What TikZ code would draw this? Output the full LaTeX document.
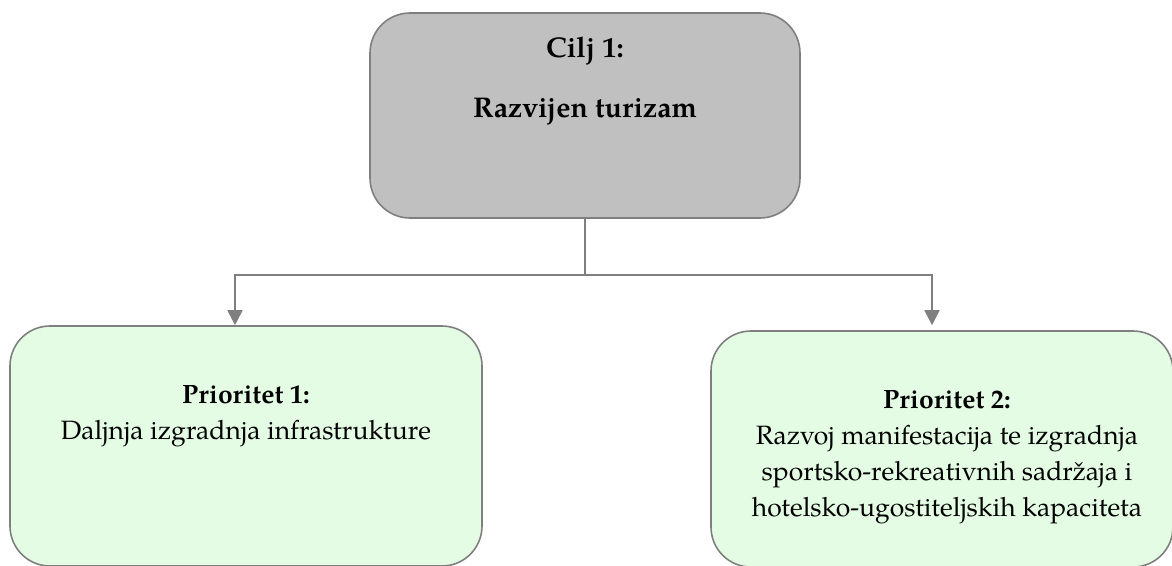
\documentclass[tikz,border=0pt]{standalone}
\usepackage{fontspec}
\setmainfont{TeX Gyre Pagella}
\usetikzlibrary{arrows.meta,calc}
\definecolor{boxline}{HTML}{7F7F7F}
\definecolor{goalgray}{HTML}{C0C0C0}
\definecolor{priogreen}{HTML}{E3FCE3}
\definecolor{connline}{HTML}{7F7F7F}
\begin{document}
\begin{tikzpicture}[x=1pt,y=-1pt,
  box/.style={draw=boxline, line width=1.6pt, rounded corners=40pt, inner sep=0pt},
  goal/.style={box, fill=goalgray},
  prio/.style={box, fill=priogreen},
  conn/.style={draw=connline, line width=1.8pt},
  arr/.style={conn, -{Triangle[length=15pt,width=15pt]}},
  txt/.style={font=\fontsize{26.5}{36}\selectfont, align=center, inner sep=0pt},
  gtxt/.style={font=\fontsize{28.5}{36}\selectfont\bfseries, inner sep=0pt}]
\useasboundingbox (0,0) rectangle (1172,565);
\clip (0,0) rectangle (1172,565);
\node[goal, minimum width=430pt, minimum height=205pt] (goal) at (585,115.5) {};
\node[prio, minimum width=472pt, minimum height=240pt] (p1) at (246,446) {};
\node[prio, minimum width=462pt, minimum height=236pt] (p2) at (942,449) {};
\node[gtxt, anchor=base] (gt1) at (585,57) {Cilj 1:};
\node[gtxt, anchor=base] (gt2) at (585,117) {Razvijen turizam};
\node[txt, anchor=base] (p1t) at (246,439) {\textbf{Prioritet 1:}\\Daljnja izgradnja infrastrukture};
\node[txt, anchor=base] (p2t) at (947,516) {\textbf{Prioritet 2:}\\Razvoj manifestacija te izgradnja\\sportsko-rekreativnih sadržaja i\\hotelsko-ugostiteljskih kapaciteta};
\coordinate (split) at (585,275);
\draw[conn] (goal.south) -- (split);
\draw[arr] (split) -| ($(p1.north)+(-11,0)$);
\draw[arr] (split) -| ($(p2.north)+(-10,-5)$);
\end{tikzpicture}
\end{document}
